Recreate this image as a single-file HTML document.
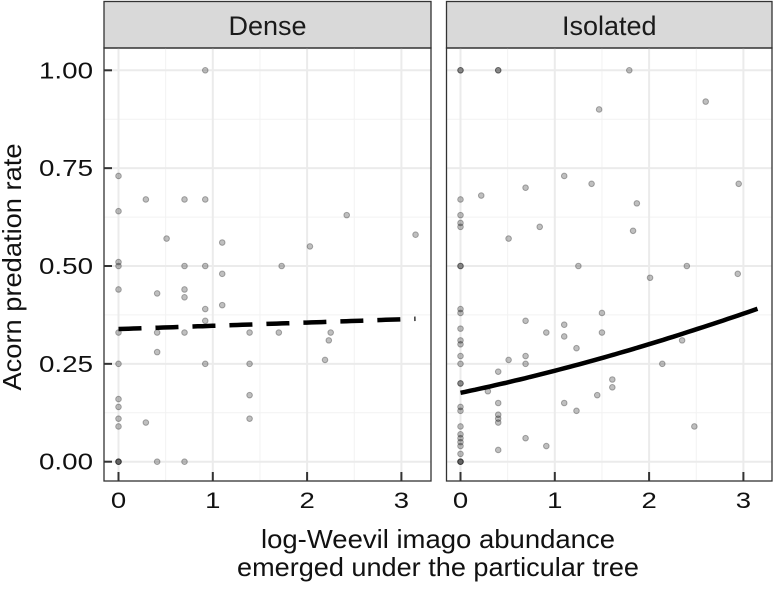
<!DOCTYPE html>
<html><head><meta charset="utf-8"><style>
body{margin:0;background:#fff;}
svg text{font-family:"Liberation Sans",Arial,sans-serif;}
</style></head><body>
<svg id="chart" width="774" height="584" viewBox="0 0 774 584" xmlns="http://www.w3.org/2000/svg">
<g id="root"></g>
</svg>
<script>
// Data
const panelNames = ["Dense", "Isolated"];
const denseX = [0,0,0,0,0,0,0,0,0,0,0,0,0,0, 0.29,0.29, 0.41,0.41,0.41,0.41, 0.51, 0.70,0.70,0.70,0.70,0.70,0.70, 0.92,0.92,0.92,0.92,0.92,0.92, 1.10,1.10,1.10, 1.39,1.39,1.39,1.39, 1.70,1.73, 2.03,2.19,2.23,2.25, 2.42, 3.15];
const denseY = [0.73,0.64,0.51,0.50,0.44,0.33,0.25,0.16,0.14,0.11,0.09,0,0,0, 0.67,0.10, 0.43,0.33,0.28,0, 0.57, 0.67,0.50,0.44,0.42,0.33,0, 1.00,0.67,0.50,0.39,0.36,0.25, 0.56,0.48,0.40, 0.33,0.25,0.17,0.11, 0.33,0.50, 0.55,0.26,0.31,0.33, 0.63, 0.58];
const isoX = [0,0,0.40,0.40,1.79, 2.60,1.47, 1.10,1.39,2.95, 0.69,0.22,0,1.87, 0,0,0,0.84,1.83,0.51, 0,0,1.25,2.40,2.01,2.94, 0,0,1.50,0.69,1.10,0,0.91,1.50,1.10,0,0,1.23,2.35, 0,0.69,0.51,0,0.69,2.14, 0.40,0,0,1.61,1.61,0.29, 0.40,1.10,1.45,0,0,1.23, 0.40,0.40,0.40, 0,2.48,0,0,0,0,0.69,0.91,0.40,0,0,0,0];
const isoY = [1.00,1.00,1.00,1.00,1.00, 0.92,0.90, 0.73,0.71,0.71, 0.70,0.68,0.67,0.66, 0.63,0.61,0.60,0.60,0.59,0.57, 0.50,0.50,0.50,0.50,0.47,0.48, 0.39,0.38,0.38,0.36,0.35,0.34,0.33,0.33,0.32,0.31,0.30,0.29,0.31, 0.27,0.27,0.26,0.25,0.25,0.25, 0.23,0.20,0.20,0.21,0.19,0.18, 0.15,0.15,0.17,0.14,0.13,0.13, 0.12,0.11,0.10, 0.09,0.09,0.07,0.06,0.05,0.04,0.06,0.04,0.03,0.02,0,0,0];
const fitIntercept = [-0.668, -1.544];
const fitSlope = [0.0365, 0.349];
const fitMaxX = [3.15, 3.15];
const xTicks = [0,1,2,3];
const yTicks = [0,0.25,0.5,0.75,1];
const yTickLabels = ["0.00","0.25","0.50","0.75","1.00"];

const NS="http://www.w3.org/2000/svg";
const root=document.getElementById('root');
function mk(tag,attrs,parent){const e=document.createElementNS(NS,tag);for(const k in attrs)e.setAttribute(k,attrs[k]);(parent||root).appendChild(e);return e;}
const panels=[{x0:104,x1:431},{x0:446.5,x1:772}];
const plotTop=48,plotBottom=481,stripTop=1.5;
const xOrigin=[118.5,460.5];
const xUnit=94.3;
function sx(p,v){return xOrigin[p]+v*xUnit;}
function sy(v){return 461.7-v*391.4;}

panels.forEach((P,p)=>{
  const g=mk('g',{});
  
  
  const strip=mk('rect',{x:P.x0,y:stripTop,width:P.x1-P.x0,height:plotTop-stripTop,fill:'#d9d9d9',stroke:'#333','stroke-width':1.3},g);
  
  
  const st=mk('text',{x:(P.x0+P.x1)/2,y:35,'text-anchor':'middle','font-size':27,fill:'#1a1a1a'},g);
  st.textContent=panelNames[p];
  
  
  [0.125,0.375,0.625,0.875].forEach(v=>mk('line',{x1:P.x0,x2:P.x1,y1:sy(v),y2:sy(v),stroke:'#f2f2f2','stroke-width':1},g));
  [0.5,1.5,2.5].forEach(v=>mk('line',{x1:sx(p,v),x2:sx(p,v),y1:plotTop,y2:plotBottom,stroke:'#f2f2f2','stroke-width':1},g));
  yTicks.forEach(v=>mk('line',{x1:P.x0,x2:P.x1,y1:sy(v),y2:sy(v),stroke:'#ebebeb','stroke-width':2},g));
  xTicks.forEach(v=>mk('line',{x1:sx(p,v),x2:sx(p,v),y1:plotTop,y2:plotBottom,stroke:'#ebebeb','stroke-width':2},g));
  const xs=p===0?denseX:isoX, ys=p===0?denseY:isoY;
  xs.forEach((x,i)=>{
    const c=mk('circle',{cx:sx(p,x),cy:sy(ys[i]),r:2.8,fill:'#000','fill-opacity':0.25,stroke:'#000','stroke-opacity':0.3,'stroke-width':1},g);
    
    
  });
  let d='';
  for(let k=0;k<=60;k++){const x=fitMaxX[p]*k/60;const y=1/(1+Math.exp(-(fitIntercept[p]+fitSlope[p]*x)));d+=(k?'L':'M')+sx(p,x).toFixed(1)+','+sy(y).toFixed(1);}
  const line=mk('path',{d:d,fill:'none',stroke:'#000','stroke-width':4.5},g);
  if(p===0)line.setAttribute('stroke-dasharray','23,14');
  
  
  mk('rect',{x:P.x0,y:plotTop,width:P.x1-P.x0,height:plotBottom-plotTop,fill:'none',stroke:'#333','stroke-width':1.3},g);
  xTicks.forEach(v=>{
    mk('line',{x1:sx(p,v),x2:sx(p,v),y1:plotBottom-9,y2:plotBottom,stroke:'#333','stroke-width':2},g);
    const t=mk('text',{x:0,y:0,'text-anchor':'middle','font-size':22,fill:'#111',transform:'translate('+sx(p,v)+',508) scale(1.25,1)'},g);
    t.textContent=String(v);
    
    
  });
});
yTicks.forEach((v,i)=>{
  mk('line',{x1:104,x2:112,y1:sy(v),y2:sy(v),stroke:'#333','stroke-width':2});
  const t=mk('text',{x:39,y:sy(v)+8,'font-size':23,fill:'#111',textLength:54,lengthAdjust:'spacingAndGlyphs'});
  t.textContent=yTickLabels[i];
  
  
});
const yt=mk('text',{x:0,y:0,'text-anchor':'middle','font-size':26,fill:'#111',textLength:247,lengthAdjust:'spacingAndGlyphs',transform:'translate(21,267) rotate(-90)'});
yt.textContent='Acorn predation rate';


const xt1=mk('text',{x:438,y:548,'text-anchor':'middle','font-size':26,fill:'#111',textLength:354,lengthAdjust:'spacingAndGlyphs'});
xt1.textContent='log-Weevil imago abundance';


const xt2=mk('text',{x:438,y:576,'text-anchor':'middle','font-size':26,fill:'#111',textLength:402,lengthAdjust:'spacingAndGlyphs'});
xt2.textContent='emerged under the particular tree';


</script>
</body></html>
